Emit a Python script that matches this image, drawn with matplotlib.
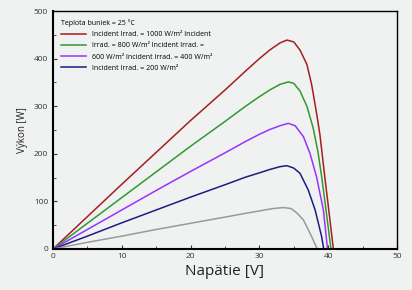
import matplotlib
matplotlib.use('Agg')
import matplotlib.pyplot as plt

plt.rcParams['font.family'] = ['Open Sans', 'DejaVu Sans']

# power curves, V in volts, P in watts
v_1000 = [0, 5, 10, 15, 20, 25, 28, 30, 31.5, 33, 34, 35, 35.9, 36.9, 37.6, 38.3, 38.8, 39.5, 40.1, 40.75]
p_1000 = [0, 68, 136, 203, 270, 334, 374, 400, 418, 433, 439, 435, 418, 388, 345, 286, 240, 152, 80, 0]

v_800 = [0, 5, 10, 15, 20, 25, 28, 30, 31.5, 33, 34.2, 35, 35.9, 36.9, 37.8, 38.5, 39.05, 39.7, 40.4]
p_800 = [0, 54, 108, 162, 216, 268, 300, 320, 334, 346, 351, 348, 332, 300, 255, 205, 152, 80, 0]

v_600 = [0, 5, 10, 15, 20, 25, 28, 30, 31.5, 33, 34.2, 35.2, 36.4, 37.35, 38.3, 39.3, 39.9]
p_600 = [0, 41, 82, 123, 163, 202, 226, 241, 251, 259, 264, 259, 236, 201, 152, 82, 0]

v_400 = [0, 5, 10, 15, 20, 25, 28, 30, 31.5, 33, 34, 35, 35.9, 37.1, 38.1, 39.05, 39.35]
p_400 = [0, 27, 55, 82, 109, 135, 151, 160, 167, 173, 175, 170, 159, 124, 82, 26, 0]

v_200 = [0, 5, 10, 15, 20, 25, 28, 30, 32, 33.5, 34.6, 35.5, 36.4, 37.6, 38.4]
p_200 = [0, 14, 27, 41, 54, 67, 75, 80, 85, 87, 85, 75, 61, 26, 0]

curves = [(v_1000, p_1000, '#a31f22'),
          (v_800, p_800, '#2f9a2f'),
          (v_600, p_600, '#9933ff'),
          (v_400, p_400, '#1c1c85'),
          (v_200, p_200, '#9a9a9a')]

legend_labels = ['Incident Irrad. = 1000 W/m² Incident',
                 'Irrad. = 800 W/m² Incident Irrad. =',
                 '600 W/m² Incident Irrad. = 400 W/m²',
                 'Incident Irrad. = 200 W/m²',
                 '']

bg = '#f0f1f1'
fig = plt.figure(figsize=(4.12, 2.90), dpi=100, facecolor=bg)
ax = fig.add_axes([0.1286, 0.1414, 0.835, 0.8206], facecolor=bg)

for (v, p, c), lab in zip(curves, legend_labels):
    ax.plot(v, p, color=c, lw=1.1, label=lab)

ax.set_xlim(0, 50)
ax.set_ylim(0, 500)
ax.set_xticks([0, 10, 20, 30, 40, 50])
ax.set_xticks([5, 15, 25, 35, 45], minor=True)
ax.set_yticks([0, 100, 200, 300, 400, 500])
ax.set_yticks([50, 150, 250, 350, 450], minor=True)
ax.tick_params(which='both', direction='in', labelsize=6, colors='#333333')
ax.tick_params(which='major', length=3, width=0.8)
ax.tick_params(which='minor', length=2, width=0.6)
ax.tick_params(axis='x', pad=3)
for s in ['left', 'bottom']:
    ax.spines[s].set_linewidth(1.5)
for s in ['top', 'right']:
    ax.spines[s].set_linewidth(1.0)

ax.set_xlabel('Napätie [V]', fontsize=11, color='#222222', labelpad=3)
ax.set_ylabel('Výkon [W]', fontsize=7, color='#222222', labelpad=4)

leg = ax.legend(loc='upper left', frameon=False, fontsize=5,
                title='Teplota buniek = 25 °C', title_fontsize=5,
                handlelength=3.5, handletextpad=0.9, labelspacing=0.6,
                borderaxespad=0.8)
leg._legend_box.align = 'left'

fig.savefig('out.png', dpi=100, facecolor=bg)
